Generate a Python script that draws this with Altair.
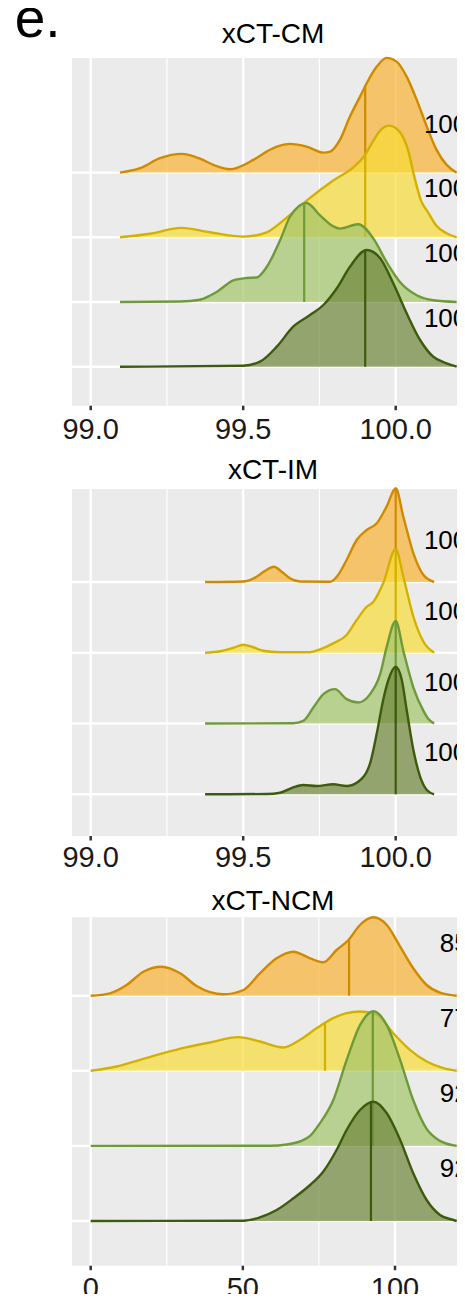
import altair as alt
import pandas as pd

FONT = "Liberation Sans"

# ------------------------------------------------------------------ data
panel_titles = ["xCT-CM", "xCT-IM", "xCT-NCM"]
figure_tag = "e."
ridge_rows = [4, 3, 2, 1]            # top ridge -> bottom ridge
line_colors = ["#CF8A00", "#D3B100", "#6E9A3A", "#3D5B0D"]
fill_colors = ["#F9B233", "#F8DB36", "#A2C469", "#6F863B"]

# ---- xCT-CM : density curves (x value, ridge height)
cm_x1 = [99.096, 99.162, 99.227, 99.298, 99.358, 99.408, 99.457, 99.533, 99.577, 99.610,
         99.653, 99.708, 99.763, 99.785, 99.817, 99.850, 99.883, 99.905, 99.938, 99.970,
         100.003, 100.036, 100.069, 100.102, 100.134, 100.167, 100.200]
cm_d1 = [0, 4.4, 14.4, 18.7, 14, 7, 3.4, 12.7, 21, 26,
         28.7, 26, 20, 21, 32.7, 56, 76, 89.4, 106, 114.7,
         111, 96, 72.7, 46, 22.7, 7.7, 0]
cm_x2 = [99.096, 99.194, 99.298, 99.391, 99.499, 99.577, 99.631, 99.708, 99.795, 99.861,
         99.894, 99.927, 99.949, 99.979, 100.014, 100.041, 100.060, 100.083, 100.106, 100.132,
         100.167, 100.200]
cm_d2 = [0, 3.5, 9.4, 5, 0.7, 5, 16.7, 36.7, 56.7, 70,
         80, 96.7, 106.7, 111.7, 105, 86.7, 62, 36.7, 25, 12,
         4, 0]
cm_x3 = [99.096, 99.293, 99.358, 99.413, 99.468, 99.511, 99.544, 99.577, 99.621, 99.653,
         99.708, 99.752, 99.795, 99.817, 99.877, 99.927, 99.970, 100.014, 100.069, 100.123,
         100.200]
cm_d3 = [0, 0.5, 2.3, 10, 21.7, 24, 24.5, 35, 61.7, 85,
         99, 86.7, 75.7, 73.4, 77.7, 63.4, 40, 20, 6.7, 1.7,
         0]
cm_x4 = [99.096, 99.499, 99.555, 99.610, 99.664, 99.719, 99.763, 99.807, 99.850, 99.905,
         99.949, 99.992, 100.036, 100.080, 100.123, 100.167, 100.200]
cm_d4 = [0, 1, 5, 20, 40, 51.7, 61.7, 78.4, 100, 116.7,
         108.4, 83.4, 53.4, 26.7, 10, 3.4, 0]
cm_median = [99.90, 99.90, 99.70, 99.90]
cm_median_d = [87.0, 84.0, 97.0, 116.5]
cm_labels = ["100", "100", "100", "100"]
cm_ticks = [99.0, 99.5, 100.0]
cm_minor = [99.25, 99.75]

# ---- xCT-IM
im_x1 = [99.375, 99.500, 99.544, 99.571, 99.601, 99.627, 99.653, 99.686, 99.785, 99.807,
         99.839, 99.872, 99.905, 99.938, 99.970, 100.000, 100.025, 100.058, 100.091, 100.126]
im_d1 = [0, 0.5, 5.3, 11, 15.3, 10, 3.7, 0.5, 0.3, 5.3,
         22, 42, 52, 58.7, 75.3, 93.7, 65.3, 28.7, 7, 0]
im_x2 = [99.375, 99.424, 99.468, 99.500, 99.533, 99.566, 99.621, 99.719, 99.752, 99.795,
         99.839, 99.872, 99.905, 99.927, 99.959, 100.000, 100.025, 100.058, 100.091, 100.126]
im_d2 = [0, 1.5, 5, 8, 5.5, 2, 0.5, 0.5, 3.4, 9.4,
         17.7, 32.7, 46, 51, 69.4, 103.7, 76, 36, 11, 0]
im_x3 = [99.375, 99.663, 99.697, 99.730, 99.763, 99.801, 99.839, 99.877, 99.916, 99.949,
         99.970, 100.000, 100.025, 100.058, 100.091, 100.106, 100.126]
im_d3 = [0, 0.3, 2.7, 16, 29.4, 34.4, 24.4, 21, 29.4, 49.4,
         76, 102.7, 72.7, 36, 12.7, 5, 0]
im_x4 = [99.375, 99.577, 99.621, 99.664, 99.697, 99.741, 99.795, 99.839, 99.877, 99.916,
         99.938, 99.959, 99.976, 100.000, 100.020, 100.036, 100.058, 100.080, 100.102, 100.126]
im_d4 = [0, 0.3, 1.6, 7, 9.3, 8.3, 10, 8.3, 12.6, 31,
         61, 94.3, 114.3, 127.6, 114.3, 84.3, 44.3, 17.6, 4.3, 0]
im_median = [100.0, 100.0, 100.0, 100.0]
im_median_d = [93.7, 103.7, 102.7, 127.6]
im_labels = ["100", "100", "100", "100"]
im_ticks = [99.0, 99.5, 100.0]
im_minor = [99.25, 99.75]

# ---- xCT-NCM
ncm_x1 = [0, 6.3, 11.8, 17.3, 23.3, 29.4, 34.8, 43.6, 50.2, 55.6,
          61.1, 66.6, 72.1, 76.4, 80.8, 84.7, 88.5, 92.9, 97.3, 101.7,
          106.0, 110.4, 114.8, 120.3]
ncm_d1 = [0, 2.4, 10.7, 24, 29, 22.4, 9.7, 1.4, 5.7, 22.4,
          37.4, 44, 37.4, 33.4, 45.7, 55.7, 70.7, 78.4, 70.7, 49,
          27.4, 10.7, 3, 0]
ncm_x2 = [0, 8.5, 16.2, 23.9, 31.6, 39.2, 48.5, 55.6, 63.3, 68.8,
          74.3, 79.7, 84.1, 88.5, 94.0, 99.4, 104.9, 110.4, 115.9, 120.3]
ncm_d2 = [0, 4.3, 11, 17.7, 23.7, 28.3, 33.7, 29.3, 23.3, 31,
          42.7, 52.7, 57.7, 59.3, 56, 37.7, 21, 9.3, 2.7, 0]
ncm_x3 = [0, 58.9, 64.4, 68.8, 72.1, 75.4, 79.7, 84.1, 88.5, 92.9,
          97.3, 101.7, 106.0, 110.4, 114.8, 120.3]
ncm_d3 = [0, 0.2, 1.4, 4.5, 10, 23, 45.7, 85.7, 120.7, 134.7,
          120.7, 85.7, 45.7, 17, 5, 0]
ncm_x4 = [0, 50.2, 55.6, 61.1, 66.6, 72.1, 76.4, 80.8, 84.1, 88.5,
          92.9, 97.3, 101.7, 106.0, 110.4, 114.8, 119.2, 120.3]
ncm_d4 = [0, 0.3, 3.7, 11, 22.7, 36, 49.3, 71, 91, 111,
          119.3, 107.7, 81, 47.7, 21, 6, 1, 0]
ncm_median = [84.9, 77.0, 92.7, 92.1]
ncm_median_d = [56.0, 47.7, 134.5, 119.0]
ncm_labels = ["85", "77", "92", "92"]
ncm_ticks = [0, 50, 100]
ncm_minor = [25, 75]

# ------------------------------------------------------------------ layout (page pixels)
# the drawing must end 8px before the window edges (page margin)
VIEW_LEFT, VIEW_RIGHT = 8, 457
VIEW_TOP, VIEW_BOT = 8, 1294
GRAY_LEFT = 72
TITLE_PX = 273
TICK_LEN = 4.5
TAG_PX, TAG_PY = 14.7, 36.7

panel_layout = [
    dict(px0=90.7, v0=99.0, kx=305.0, yb=366.7, ky=64.7,
         gray_top=58, gray_bot=405.7,
         title_base=43.3, tick_base=439.3, lab_px=423.9, lab_off=49.2, fmt="{:.1f}"),
    dict(px0=90.7, v0=99.0, kx=305.0, yb=794.3, ky=70.77,
         gray_top=489, gray_bot=836,
         title_base=479.3, tick_base=866.7, lab_px=423.9, lab_off=42.3, fmt="{:.1f}"),
    dict(px0=90.7, v0=0.0, kx=3.043, yb=1221.0, ky=75.1,
         gray_top=917.3, gray_bot=1265.7,
         title_base=909.5, tick_base=1297.7, lab_px=439.7, lab_off=53.0, fmt="{:.0f}"),
]


def ridge_panel(title, curves, medians, med_d, labels, ticks, minor, L, tag=None):
    def vx(px):
        return L["v0"] + (px - L["px0"]) / L["kx"]

    def vy(py):
        return 1 + (L["yb"] - py) / L["ky"]

    xs = alt.Scale(domain=[vx(VIEW_LEFT), vx(VIEW_RIGHT)], nice=False, zero=False)
    ys = alt.Scale(domain=[vy(VIEW_BOT), vy(VIEW_TOP)], nice=False, zero=False)
    ky = L["ky"]

    def X(f="x"):
        return alt.X(f"{f}:Q", scale=xs, axis=None)

    def Y(f):
        return alt.Y(f"{f}:Q", scale=ys, axis=None)

    gx0, gx1 = vx(GRAY_LEFT), vx(VIEW_RIGHT)
    gy0, gy1 = vy(L["gray_bot"]), vy(L["gray_top"])

    layers = []
    # panel background
    bg = pd.DataFrame({"x": [gx0], "x2": [gx1], "y": [gy0], "y2": [gy1]})
    layers.append(alt.Chart(bg).mark_rect(color="#EBEBEB", clip=True)
                  .encode(x=X(), x2=alt.X2("x2"), y=Y("y"), y2=alt.Y2("y2")))
    # grid lines
    layers.append(alt.Chart(pd.DataFrame({"x": minor, "y": gy0, "y2": gy1}))
                  .mark_rule(color="white", strokeWidth=1.2, clip=True)
                  .encode(x=X(), y=Y("y"), y2=alt.Y2("y2")))
    layers.append(alt.Chart(pd.DataFrame({"x": ticks, "y": gy0, "y2": gy1}))
                  .mark_rule(color="white", strokeWidth=2.4, clip=True)
                  .encode(x=X(), y=Y("y"), y2=alt.Y2("y2")))
    layers.append(alt.Chart(pd.DataFrame({"y": ridge_rows, "x": gx0, "x2": gx1}))
                  .mark_rule(color="white", strokeWidth=2.4, clip=True)
                  .encode(y=Y("y"), x=X(), x2=alt.X2("x2")))
    # ridges: fill, outline, median line (top ridge first)
    for i, (xv, dv) in enumerate(curves):
        row = ridge_rows[i]
        df = pd.DataFrame({"x": xv, "top": [row + d / ky for d in dv],
                           "base": [row] * len(xv)})
        layers.append(alt.Chart(df).mark_area(color=fill_colors[i], fillOpacity=0.7,
                                              interpolate="monotone", clip=True)
                      .encode(x=X(), y=Y("top"), y2=alt.Y2("base")))
        layers.append(alt.Chart(df).mark_line(color=line_colors[i], strokeWidth=2.4,
                                              interpolate="monotone", clip=True)
                      .encode(x=X(), y=Y("top")))
        mdf = pd.DataFrame({"x": [medians[i]], "base": [row],
                            "top": [row + med_d[i] / ky]})
        layers.append(alt.Chart(mdf).mark_rule(color=line_colors[i], strokeWidth=2.2, clip=True)
                      .encode(x=X(), y=Y("base"), y2=alt.Y2("top")))
    # value labels at the right (cut by the figure edge)
    ldf = pd.DataFrame({"x": [vx(L["lab_px"])] * 4,
                        "y": [r + (L["lab_off"] - 9.3) / ky for r in ridge_rows],
                        "t": labels})
    layers.append(alt.Chart(ldf).mark_text(align="left", baseline="alphabetic", fontSize=26,
                                           font=FONT, color="#000000", clip=True)
                  .encode(x=X(), y=Y("y"), text="t:N"))
    # x axis: ticks and labels
    tdf = pd.DataFrame({"x": ticks, "y": gy0, "y2": vy(L["gray_bot"] + TICK_LEN)})
    layers.append(alt.Chart(tdf).mark_rule(color="#333333", strokeWidth=2.5, clip=True)
                  .encode(x=X(), y=Y("y"), y2=alt.Y2("y2")))
    tl = pd.DataFrame({"x": ticks, "y": vy(L["tick_base"]),
                       "t": [L["fmt"].format(t) for t in ticks]})
    layers.append(alt.Chart(tl).mark_text(align="center", baseline="alphabetic", fontSize=29,
                                          font=FONT, color="#1A1A1A", clip=True)
                  .encode(x=X(), y=Y("y"), text="t:N"))
    # panel title
    ttl = pd.DataFrame({"x": [vx(TITLE_PX)], "y": [vy(L["title_base"])], "t": [title]})
    layers.append(alt.Chart(ttl).mark_text(align="center", baseline="alphabetic", fontSize=28,
                                           font=FONT, color="#000000", clip=True)
                  .encode(x=X(), y=Y("y"), text="t:N"))
    if tag:
        tg = pd.DataFrame({"x": [vx(TAG_PX)], "y": [vy(TAG_PY)], "t": [tag]})
        layers.append(alt.Chart(tg).mark_text(align="left", baseline="alphabetic", fontSize=55,
                                              font=FONT, color="#000000", clip=True)
                      .encode(x=X(), y=Y("y"), text="t:N"))
    return alt.layer(*layers)


p1 = ridge_panel(panel_titles[0],
                 [(cm_x1, cm_d1), (cm_x2, cm_d2), (cm_x3, cm_d3), (cm_x4, cm_d4)],
                 cm_median, cm_median_d, cm_labels, cm_ticks, cm_minor, panel_layout[0],
                 tag=figure_tag)
p2 = ridge_panel(panel_titles[1],
                 [(im_x1, im_d1), (im_x2, im_d2), (im_x3, im_d3), (im_x4, im_d4)],
                 im_median, im_median_d, im_labels, im_ticks, im_minor, panel_layout[1])
p3 = ridge_panel(panel_titles[2],
                 [(ncm_x1, ncm_d1), (ncm_x2, ncm_d2), (ncm_x3, ncm_d3), (ncm_x4, ncm_d4)],
                 ncm_median, ncm_median_d, ncm_labels, ncm_ticks, ncm_minor, panel_layout[2])

chart = alt.layer(p1, p2, p3).resolve_scale(
    x="independent", y="independent"
).properties(
    width=VIEW_RIGHT - VIEW_LEFT,
    height=VIEW_BOT - VIEW_TOP,
    autosize=alt.AutoSizeParams(type="none"),
    padding=0,
).configure_view(strokeWidth=0)

chart.save("out.html", embed_options={"renderer": "svg", "actions": False})
